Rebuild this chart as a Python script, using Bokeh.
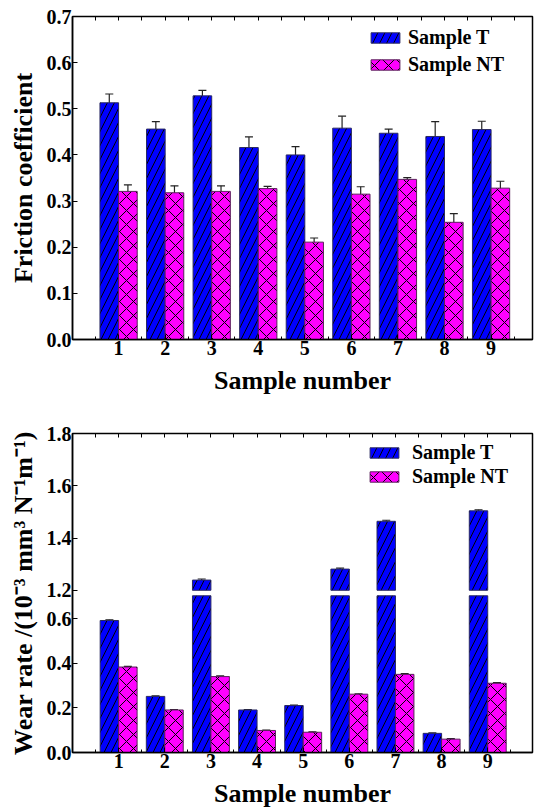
import numpy as np
from bokeh.plotting import figure
from bokeh.models import (ColumnDataSource, Range1d, Whisker, TeeHead, FixedTicker,
                          NumeralTickFormatter, CustomJSTickFormatter, LinearAxis,
                          Legend, LegendItem)
from bokeh.layouts import column
from bokeh.embed import file_html
from bokeh.resources import INLINE

# ---------------- data ----------------
samples = [1, 2, 3, 4, 5, 6, 7, 8, 9]

friction_T = [0.513, 0.456, 0.528, 0.416, 0.400, 0.458, 0.447, 0.440, 0.455]
friction_T_err = [0.019, 0.016, 0.012, 0.023, 0.018, 0.026, 0.009, 0.032, 0.018]
friction_NT = [0.321, 0.318, 0.321, 0.327, 0.211, 0.315, 0.347, 0.254, 0.328]
friction_NT_err = [0.014, 0.015, 0.012, 0.005, 0.009, 0.016, 0.004, 0.019, 0.015]

wear_T = [0.593, 0.252, 1.239, 0.191, 0.211, 1.281, 1.464, 0.086, 1.504]
wear_T_err = [0.003, 0.002, 0.004, 0.002, 0.002, 0.004, 0.004, 0.002, 0.004]
wear_NT = [0.384, 0.191, 0.341, 0.099, 0.091, 0.262, 0.351, 0.060, 0.311]
wear_NT_err = [0.003, 0.002, 0.003, 0.002, 0.002, 0.002, 0.003, 0.002, 0.003]

friction_ticks = [0.0, 0.1, 0.2, 0.3, 0.4, 0.5, 0.6, 0.7]
wear_lower_ticks = [0.0, 0.2, 0.4, 0.6]
wear_upper_ticks = [1.2, 1.4, 1.6, 1.8]
x_minor_ticks = [0.5, 1.5, 2.5, 3.5, 4.5, 5.5, 6.5, 7.5, 8.5, 9.5]

# broken-axis definition for the wear panel
LOWER_END = 1.433          # lower-scale units spanned by the whole frame
BREAK_LOW = 0.704          # top of the lower segment
UPPER_START, UPPER_END = 0.579, 1.8   # upper-scale range spanning the whole frame
UPPER_BASE = 1.2

# ---------------- style ----------------
FONT = "Liberation Serif"
COL_T, COL_NT = "#0000FF", "#FF00FF"
EDGE_T, EDGE_NT = "#2a2a60", "#5a205a"
ERR = "#222222"
BAR_W, OFF = 0.4, 0.2


def style_axis(ax):
    ax.axis_line_color = "black"
    ax.axis_line_width = 1.5
    ax.major_tick_in = 5
    ax.major_tick_out = 0
    ax.minor_tick_in = 3
    ax.minor_tick_out = 0
    ax.major_tick_line_color = "black"
    ax.minor_tick_line_color = "black"
    ax.major_label_text_font = FONT
    ax.major_label_text_font_style = "bold"
    ax.major_label_text_font_size = "20px"
    ax.major_label_text_color = "black"
    ax.axis_label_text_font = FONT
    ax.axis_label_text_font_style = "bold"
    ax.axis_label_text_font_size = "26px"
    ax.axis_label_text_color = "black"


def add_top_ticks(p):
    ax = LinearAxis(ticker=FixedTicker(ticks=sorted(samples + x_minor_ticks), minor_ticks=[]),
                    formatter=CustomJSTickFormatter(code="return ''"))
    ax.axis_line_color = None
    ax.major_tick_in = 4
    ax.major_tick_out = 0
    ax.major_tick_line_color = "black"
    ax.major_label_text_font_size = "0px"
    ax.major_label_standoff = 0
    p.add_layout(ax, "above")


def make_whisker(src, base, lo, hi, **kw):
    return Whisker(source=src, base=base, lower=lo, upper=hi,
                   line_color=ERR, line_width=1.2,
                   upper_head=TeeHead(size=8, line_color=ERR, line_width=1.2),
                   lower_head=TeeHead(size=8, line_color=ERR, line_width=1.2), **kw)


def make_legend(items, size, standoff, label_width, spacing, padding, margin):
    return Legend(items=items, location="top_right",
                  border_line_color=None, background_fill_alpha=0,
                  label_text_font=FONT, label_text_font_style="bold",
                  label_text_font_size=size, label_text_color="black",
                  glyph_width=36, glyph_height=13, label_height=20,
                  label_standoff=standoff, label_width=label_width,
                  spacing=spacing, padding=padding, margin=margin)


s = np.array(samples, dtype=float)
bar_kw_T = dict(fill_color=COL_T, line_color=EDGE_T, line_width=1,
                hatch_pattern="right_diagonal_line", hatch_color="black",
                hatch_scale=14, hatch_weight=1)
bar_kw_NT = dict(fill_color=COL_NT, line_color=EDGE_NT, line_width=1,
                 hatch_pattern="diagonal_cross", hatch_color="black",
                 hatch_scale=14, hatch_weight=1)

# ---------------- friction panel ----------------
fT, fTe = np.array(friction_T), np.array(friction_T_err)
fN, fNe = np.array(friction_NT), np.array(friction_NT_err)
src1 = ColumnDataSource(dict(xT=s - OFF, xNT=s + OFF, T=fT, NT=fN,
                             T_lo=fT - fTe, T_hi=fT + fTe,
                             NT_lo=fN - fNe, NT_hi=fN + fNe))

p1 = figure(width=534, height=405, x_range=Range1d(0.01, 9.89), y_range=Range1d(0, 0.7),
            output_backend="svg", toolbar_location=None,
            min_border_left=72, min_border_right=2, min_border_top=16, min_border_bottom=66,
            background_fill_color="white", border_fill_color="white")
p1.grid.visible = False
p1.outline_line_color = "black"
p1.outline_line_width = 1.5

rT1 = p1.vbar(x="xT", top="T", bottom=0, width=BAR_W, source=src1, **bar_kw_T)
rN1 = p1.vbar(x="xNT", top="NT", bottom=0, width=BAR_W, source=src1, **bar_kw_NT)
p1.add_layout(make_whisker(src1, "xT", "T_lo", "T_hi"))
p1.add_layout(make_whisker(src1, "xNT", "NT_lo", "NT_hi"))

xa = p1.xaxis[0]
style_axis(xa)
xa.ticker = FixedTicker(ticks=samples, minor_ticks=x_minor_ticks)
xa.axis_label = "Sample number"
xa.major_label_standoff = 1
xa.axis_label_standoff = 8
ya = p1.yaxis[0]
style_axis(ya)
ya.ticker = FixedTicker(ticks=friction_ticks, minor_ticks=[])
ya.formatter = NumeralTickFormatter(format="0.0")
ya.axis_label = "Friction coefficient"
ya.major_label_standoff = 1
ya.axis_label_standoff = 6
add_top_ticks(p1)

p1.add_layout(make_legend([LegendItem(label="Sample T", renderers=[rT1]),
                           LegendItem(label="Sample NT", renderers=[rN1])],
                          "20px", 5, 114, 4, 2, 10))

# ---------------- wear panel (broken axis) ----------------
wT, wTe = np.array(wear_T), np.array(wear_T_err)
wN, wNe = np.array(wear_NT), np.array(wear_NT_err)

low = wT <= BREAK_LOW
up = wT > UPPER_BASE
src_lowT = ColumnDataSource(dict(x=s - OFF, top=np.minimum(wT, BREAK_LOW)))
src_errT_low = ColumnDataSource(dict(x=(s - OFF)[low], lo=(wT - wTe)[low], hi=(wT + wTe)[low]))
src_upT = ColumnDataSource(dict(x=(s - OFF)[up], top=wT[up], bottom=np.full(up.sum(), UPPER_BASE),
                                lo=(wT - wTe)[up], hi=(wT + wTe)[up]))
src_NT = ColumnDataSource(dict(x=s + OFF, top=wN, lo=wN - wNe, hi=wN + wNe))

p2 = figure(width=534, height=405, x_range=Range1d(0, 9.97), y_range=Range1d(0, LOWER_END),
            output_backend="svg", toolbar_location=None,
            min_border_left=72, min_border_right=2, min_border_top=28, min_border_bottom=55,
            background_fill_color="white", border_fill_color="white")
p2.extra_y_ranges = {"upper": Range1d(UPPER_START, UPPER_END)}
p2.grid.visible = False
p2.outline_line_color = "black"
p2.outline_line_width = 1.5

rT2 = p2.vbar(x="x", top="top", bottom=0, width=BAR_W, source=src_lowT, **bar_kw_T)
p2.vbar(x="x", top="top", bottom="bottom", width=BAR_W, source=src_upT,
        y_range_name="upper", **bar_kw_T)
rN2 = p2.vbar(x="x", top="top", bottom=0, width=BAR_W, source=src_NT, **bar_kw_NT)
p2.add_layout(make_whisker(src_errT_low, "x", "lo", "hi"))
p2.add_layout(make_whisker(src_upT, "x", "lo", "hi", y_range_name="upper"))
p2.add_layout(make_whisker(src_NT, "x", "lo", "hi"))

xb = p2.xaxis[0]
style_axis(xb)
xb.ticker = FixedTicker(ticks=samples, minor_ticks=x_minor_ticks)
xb.axis_label = "Sample number"
xb.major_label_standoff = 1
xb.axis_label_standoff = 8

upper_pos = [(u - UPPER_START) / (UPPER_END - UPPER_START) * LOWER_END for u in wear_upper_ticks]
yb = p2.yaxis[0]
style_axis(yb)
yb.ticker = FixedTicker(ticks=wear_lower_ticks + upper_pos, minor_ticks=[])
yb.formatter = CustomJSTickFormatter(
    args=dict(brk=BREAK_LOW, us=UPPER_START, ue=UPPER_END, lend=LOWER_END),
    code="const v = (tick > brk) ? us + (tick / lend) * (ue - us) : tick; return v.toFixed(1);")
yb.axis_label = "Wear rate /(10\u207b\u00b3 mm\u00b3 N\u207b\u00b9m\u207b\u00b9)"
yb.major_label_standoff = 1
yb.axis_label_standoff = 6
add_top_ticks(p2)

p2.add_layout(make_legend([LegendItem(label="Sample T", renderers=[rT2]),
                           LegendItem(label="Sample NT", renderers=[rN2])],
                          "20px", 10, 112, 1, 1, 8))

layout = column(p1, p2, spacing=0)
open("out.html", "w").write(file_html(layout, INLINE))
